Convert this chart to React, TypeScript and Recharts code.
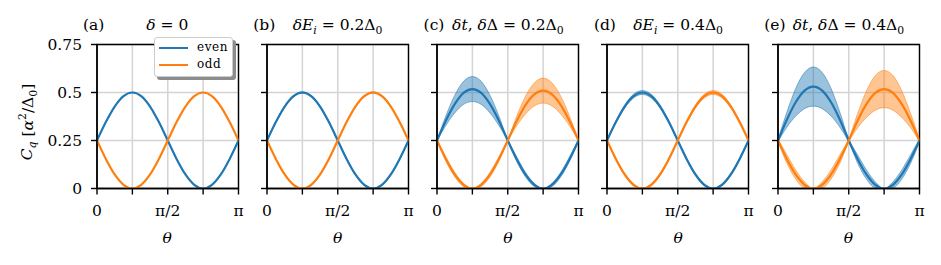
import React from "react";
import {
  ComposedChart,
  Line,
  Area,
  XAxis,
  YAxis,
  CartesianGrid,
  ReferenceArea,
} from "recharts";

// theta sampled in units of pi
const thetaOverPi = [0, 0.0625, 0.125, 0.1875, 0.25, 0.3125, 0.375, 0.4375, 0.5, 0.5625, 0.625, 0.6875, 0.75, 0.8125, 0.875, 0.9375, 1];

// (a), (b), (d): mean curves
const evenIdeal = [0.25, 0.346, 0.427, 0.481, 0.5, 0.481, 0.427, 0.346, 0.25, 0.154, 0.073, 0.019, 0, 0.019, 0.073, 0.154, 0.25];
const oddIdeal = [0.25, 0.154, 0.073, 0.019, 0, 0.019, 0.073, 0.154, 0.25, 0.346, 0.427, 0.481, 0.5, 0.481, 0.427, 0.346, 0.25];

// (b) spreads
const evenSpreadB = [0.002, 0.003, 0.004, 0.004, 0.004, 0.004, 0.004, 0.003, 0.002, 0.003, 0.004, 0.003, 0, 0.003, 0.004, 0.003, 0.002];
const oddSpreadB = [0.002, 0.003, 0.004, 0.003, 0, 0.003, 0.004, 0.003, 0.002, 0.003, 0.004, 0.004, 0.004, 0.004, 0.004, 0.003, 0.002];

// (c)
const evenMeanC = [0.25, 0.353, 0.439, 0.498, 0.518, 0.498, 0.439, 0.353, 0.25, 0.154, 0.073, 0.019, 0, 0.019, 0.073, 0.154, 0.25];
const evenSpreadC = [0.002, 0.025, 0.046, 0.06, 0.065, 0.06, 0.046, 0.025, 0.004, 0.012, 0.012, 0.008, 0, 0.008, 0.012, 0.012, 0.004];
const oddMeanC = [0.25, 0.154, 0.073, 0.019, 0, 0.019, 0.073, 0.154, 0.25, 0.35, 0.434, 0.49, 0.51, 0.49, 0.434, 0.35, 0.25];
const oddSpreadC = [0.004, 0.012, 0.012, 0.008, 0, 0.008, 0.012, 0.012, 0.004, 0.025, 0.046, 0.06, 0.065, 0.06, 0.046, 0.025, 0.002];

// (d) spreads
const evenSpreadD = [0.002, 0.006, 0.008, 0.01, 0.01, 0.01, 0.008, 0.006, 0.003, 0.005, 0.006, 0.005, 0, 0.005, 0.006, 0.005, 0.002];
const oddSpreadD = [0.002, 0.005, 0.006, 0.005, 0, 0.005, 0.006, 0.005, 0.003, 0.006, 0.008, 0.01, 0.01, 0.01, 0.008, 0.006, 0.002];

// (e)
const evenMeanE = [0.25, 0.358, 0.449, 0.51, 0.531, 0.51, 0.449, 0.358, 0.25, 0.154, 0.073, 0.019, 0, 0.019, 0.073, 0.154, 0.25];
const evenSpreadE = [0.006, 0.039, 0.072, 0.094, 0.102, 0.094, 0.072, 0.039, 0.008, 0.022, 0.024, 0.016, 0, 0.016, 0.024, 0.022, 0.008];
const oddMeanE = [0.25, 0.154, 0.073, 0.019, 0, 0.019, 0.073, 0.154, 0.25, 0.353, 0.439, 0.498, 0.518, 0.498, 0.439, 0.353, 0.25];
const oddSpreadE = [0.008, 0.022, 0.024, 0.016, 0, 0.016, 0.024, 0.022, 0.008, 0.037, 0.069, 0.09, 0.097, 0.09, 0.069, 0.037, 0.006];

const xTicks = [0, 0.25, 0.5, 0.75, 1];
const yTicks = [0, 0.25, 0.5, 0.75];

const BLUE = "#1f77b4";
const ORANGE = "#ff7f0e";
const FONT = "'DejaVu Serif', serif";
const FS = 15.5;

const PLOT_W = 141.5;
const PLOT_TOP = 44.5;
const PLOT_H = 144;
const Y_AXIS_W = 60;

interface Panel {
  letter: string;
  title: React.ReactNode;
  evenMean: number[];
  oddMean: number[];
  evenSpread?: number[];
  oddSpread?: number[];
}

const sub = { fontSize: "0.7em" };

const panels: Panel[] = [
  {
    letter: "(a)",
    title: <><i>δ</i> = 0</>,
    evenMean: evenIdeal,
    oddMean: oddIdeal,
  },
  {
    letter: "(b)",
    title: <><i>δE<sub style={sub}>i</sub></i> = 0.2Δ<sub style={sub}>0</sub></>,
    evenMean: evenIdeal,
    oddMean: oddIdeal,
    evenSpread: evenSpreadB,
    oddSpread: oddSpreadB,
  },
  {
    letter: "(c)",
    title: <><i>δt</i>, <i>δ</i>Δ = 0.2Δ<sub style={sub}>0</sub></>,
    evenMean: evenMeanC,
    oddMean: oddMeanC,
    evenSpread: evenSpreadC,
    oddSpread: oddSpreadC,
  },
  {
    letter: "(d)",
    title: <><i>δE<sub style={sub}>i</sub></i> = 0.4Δ<sub style={sub}>0</sub></>,
    evenMean: evenIdeal,
    oddMean: oddIdeal,
    evenSpread: evenSpreadD,
    oddSpread: oddSpreadD,
  },
  {
    letter: "(e)",
    title: <><i>δt</i>, <i>δ</i>Δ = 0.4Δ<sub style={sub}>0</sub></>,
    evenMean: evenMeanE,
    oddMean: oddMeanE,
    evenSpread: evenSpreadE,
    oddSpread: oddSpreadE,
  },
];

const panelLefts = [96.5, 266.8, 437.1, 607.4, 777.7];

const formatX = (v: number) => (v === 0 ? "0" : v === 0.5 ? "π/2" : v === 1 ? "π" : "");

const PanelChart = ({ panel, index }: { panel: Panel; index: number }) => {
  const rows = thetaOverPi.map((t, i) => ({
    t,
    even: panel.evenMean[i],
    odd: panel.oddMean[i],
    evenBand: panel.evenSpread
      ? [panel.evenMean[i] - panel.evenSpread[i], panel.evenMean[i] + panel.evenSpread[i]]
      : undefined,
    oddBand: panel.oddSpread
      ? [panel.oddMean[i] - panel.oddSpread[i], panel.oddMean[i] + panel.oddSpread[i]]
      : undefined,
  }));
  const showY = index === 0;
  const left = panelLefts[index];
  const tickStyle = { fontFamily: FONT, fontSize: FS, fill: "#000" };

  return (
    <div style={{ position: "absolute", left: left - Y_AXIS_W, top: 0 }}>
      <ComposedChart
        width={Y_AXIS_W + PLOT_W + 20}
        height={265}
        data={rows}
        margin={{ top: PLOT_TOP, right: 20, left: 0, bottom: 0 }}
      >
        <CartesianGrid stroke="#d4d4d4" strokeWidth={1.5} />
        <XAxis
          dataKey="t"
          type="number"
          domain={[0, 1]}
          allowDataOverflow
          ticks={xTicks}
          interval={0}
          tickFormatter={formatX}
          height={265 - PLOT_TOP - PLOT_H}
          tickSize={6}
          tickMargin={10}
          tick={tickStyle}
          axisLine={{ stroke: "#000", strokeWidth: 1.4 }}
          tickLine={{ stroke: "#000", strokeWidth: 1.4 }}
        />
        <YAxis
          type="number"
          domain={[0, 0.75]}
          allowDataOverflow
          ticks={yTicks}
          interval={0}
          width={Y_AXIS_W}
          tickSize={6}
          tickMargin={9}
          tickFormatter={(v: number) => (showY ? String(v) : "")}
          tick={tickStyle}
          axisLine={{ stroke: "#000", strokeWidth: 1.4 }}
          tickLine={{ stroke: "#000", strokeWidth: 1.4 }}
        />
        {panel.evenSpread && (
          <Area
            dataKey="evenBand"
            type="monotone"
            stroke={BLUE}
            strokeOpacity={0.5}
            strokeWidth={1}
            fill={BLUE}
            fillOpacity={0.45}
            isAnimationActive={false}
          />
        )}
        <Line
          dataKey="even"
          type="monotone"
          stroke={BLUE}
          strokeWidth={2.2}
          dot={false}
          isAnimationActive={false}
        />
        {panel.oddSpread && (
          <Area
            dataKey="oddBand"
            type="monotone"
            stroke={ORANGE}
            strokeOpacity={0.5}
            strokeWidth={1}
            fill={ORANGE}
            fillOpacity={0.45}
            isAnimationActive={false}
          />
        )}
        <Line
          dataKey="odd"
          type="monotone"
          stroke={ORANGE}
          strokeWidth={2.2}
          dot={false}
          isAnimationActive={false}
        />
        <ReferenceArea
          x1={0}
          x2={1}
          y1={0}
          y2={0.75}
          fill="none"
          fillOpacity={0}
          stroke="#000"
          strokeWidth={1.4}
        />
      </ComposedChart>
    </div>
  );
};

const textBase: React.CSSProperties = {
  position: "absolute",
  fontFamily: FONT,
  fontSize: FS,
  lineHeight: "17px",
  whiteSpace: "nowrap",
  color: "#000",
};

export default function App() {
  return (
    <div style={{ position: "absolute", left: 0, top: 0, width: 941, height: 265, background: "#fff" }}>
      {panels.map((p, i) => (
        <PanelChart key={p.letter} panel={p} index={i} />
      ))}
      {panels.map((p, i) => {
        const left = panelLefts[i];
        return (
          <React.Fragment key={"t" + p.letter}>
            <div style={{ ...textBase, left: left - 13.5, top: 17 }}>{p.letter}</div>
            <div style={{ ...textBase, left: left + PLOT_W / 2, top: 17, transform: "translateX(-50%)" }}>
              {p.title}
            </div>
            <div style={{ ...textBase, left: left + PLOT_W / 2, top: 230, transform: "translateX(-50%)" }}>
              <i>θ</i>
            </div>
          </React.Fragment>
        );
      })}
      {/* y label */}
      <div
        style={{
          ...textBase,
          left: 27.5,
          top: 121.7,
          transform: "translate(-50%, -50%) rotate(-90deg)",
        }}
      >
        <i>C<sub style={sub}>q</sub></i> [<i>α</i><sup style={sub}>2</sup>/Δ<sub style={sub}>0</sub>]
      </div>
      {/* legend */}
      <div
        style={{
          position: "absolute",
          left: 154,
          top: 37,
          width: 79,
          height: 40,
          background: "#fff",
          border: "1px solid #cccccc",
          borderRadius: 3,
          boxShadow: "3px 3px 0 #8c8c8c",
          boxSizing: "border-box",
        }}
      >
        {[
          { name: "even", color: BLUE, y: 9.7 },
          { name: "odd", color: ORANGE, y: 27.3 },
        ].map((e) => (
          <React.Fragment key={e.name}>
            <div
              style={{
                position: "absolute",
                left: 4,
                top: e.y - 1.1,
                width: 29,
                height: 2.2,
                background: e.color,
              }}
            />
            <div
              style={{
                position: "absolute",
                left: 42,
                top: e.y - 8,
                fontFamily: FONT,
                fontSize: 12,
                lineHeight: "15px",
                letterSpacing: 0.6,
                color: "#000",
              }}
            >
              {e.name}
            </div>
          </React.Fragment>
        ))}
      </div>
    </div>
  );
}
